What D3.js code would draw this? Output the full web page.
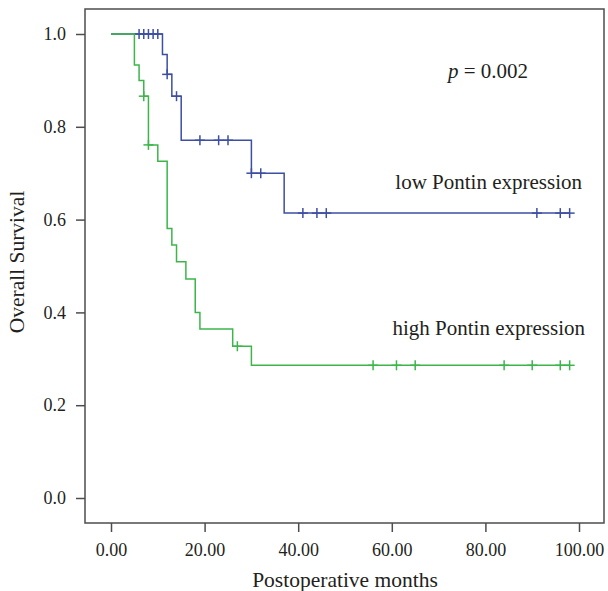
<!DOCTYPE html>
<html>
<head>
<meta charset="utf-8">
<script src="https://cdn.jsdelivr.net/npm/d3@7"></script>
<style>
    body { margin: 0; background: #fff; }
    svg text { font-family: "Liberation Serif", "Times New Roman", serif; fill: #231f20; }
</style>
</head>
<body>
<svg id="chart" width="608" height="591"></svg>
<script>
    // low Pontin expression (blue)
    var lowTimes = [11, 12, 13, 15, 30, 37];
    var lowSurv = [0.956, 0.913, 0.866, 0.771, 0.70, 0.614];
    var lowCensor = [6, 7, 8, 9, 10, 12, 14, 19, 23, 25, 30, 32, 41, 44, 46, 91, 96, 98];

    // high Pontin expression (green)
    var highTimes = [5, 6, 7, 8, 10, 12, 13, 14, 16, 18, 19, 26, 30];
    var highSurv = [0.933, 0.90, 0.866, 0.761, 0.726, 0.581, 0.545, 0.509, 0.472, 0.40, 0.364, 0.327, 0.286];
    var highCensor = [7, 8, 27, 56, 61, 65, 84, 90, 96, 98];

    var xTicks = [0, 20, 40, 60, 80, 100];
    var yTicks = [0, 0.2, 0.4, 0.6, 0.8, 1.0];

    var svg = d3.select("#chart");
    var frame = { left: 85, right: 604, top: 9, bottom: 523 };

    var x = d3.scaleLinear().domain([0, 100]).range([111, 579]);
    var y = d3.scaleLinear().domain([0, 1]).range([498, 34]);

    // survival at time t (value after any drop at t)
    function survAt(times, surv, t) {
        var s = 1;
        times.forEach(function (tt, i) { if (tt <= t) { s = surv[i]; } });
        return s;
    }

    function stepPoints(times, surv, end) {
        var pts = [[0, 1]];
        times.forEach(function (t, i) { pts.push([t, surv[i]]); });
        pts.push([end, surv[surv.length - 1]]);
        return pts;
    }

    var line = d3.line()
        .x(function (d) { return x(d[0]); })
        .y(function (d) { return y(d[1]); })
        .curve(d3.curveStepAfter);

    // frame
    svg.append("rect")
        .attr("x", frame.left).attr("y", frame.top)
        .attr("width", frame.right - frame.left)
        .attr("height", frame.bottom - frame.top)
        .attr("fill", "none").attr("stroke", "#4d4d4d").attr("stroke-width", 1.5);

    // axes
    var yAxis = svg.append("g")
        .attr("transform", "translate(" + frame.left + ",0)")
        .call(d3.axisLeft(y).tickValues(yTicks).tickFormat(d3.format(".1f")).tickSize(9).tickPadding(10));
    var xAxis = svg.append("g")
        .attr("transform", "translate(0," + frame.bottom + ")")
        .call(d3.axisBottom(x).tickValues(xTicks).tickFormat(d3.format(".2f")).tickSize(9).tickPadding(11));
    [yAxis, xAxis].forEach(function (g) {
        g.select(".domain").remove();
        g.selectAll(".tick line").attr("stroke", "#4d4d4d").attr("stroke-width", 1.5);
        g.selectAll(".tick text").style("font-size", "18px").attr("fill", "#231f20");
    });

    function drawSeries(times, surv, censor, color) {
        var end = d3.max(censor);
        var g = svg.append("g");
        g.append("path")
            .datum(stepPoints(times, surv, end))
            .attr("d", line)
            .attr("fill", "none").attr("stroke", color).attr("stroke-width", 1.5);
        var marks = g.selectAll(".censor").data(censor).enter().append("g")
            .attr("transform", function (t) {
                return "translate(" + x(t) + "," + y(survAt(times, surv, t)) + ")";
            });
        marks.append("line").attr("x1", 0).attr("x2", 0).attr("y1", -5).attr("y2", 5)
            .attr("stroke", color).attr("stroke-width", 1.5);
        marks.append("line").attr("x1", -5).attr("x2", 5).attr("y1", 0).attr("y2", 0)
            .attr("stroke", color).attr("stroke-width", 1.5);
    }

    drawSeries(lowTimes, lowSurv, lowCensor, "#3d4fa3");
    drawSeries(highTimes, highSurv, highCensor, "#3db54a");

    // titles and notes
    svg.append("text")
        .attr("x", 345).attr("y", 587)
        .attr("text-anchor", "middle").style("font-size", "21.5px")
        .text("Postoperative months");

    svg.append("text")
        .attr("transform", "translate(24,262) rotate(-90)")
        .attr("text-anchor", "middle").style("font-size", "21.5px")
        .text("Overall Survival");

    var p = svg.append("text")
        .attr("x", 448).attr("y", 78).style("font-size", "21px");
    p.append("tspan").style("font-style", "italic").text("p");
    p.append("tspan").text(" = 0.002");

    svg.append("text")
        .attr("x", 582).attr("y", 189)
        .attr("text-anchor", "end").style("font-size", "21px")
        .text("low Pontin expression");

    svg.append("text")
        .attr("x", 585).attr("y", 335)
        .attr("text-anchor", "end").style("font-size", "21px")
        .text("high Pontin expression");
</script>
</body>
</html>
